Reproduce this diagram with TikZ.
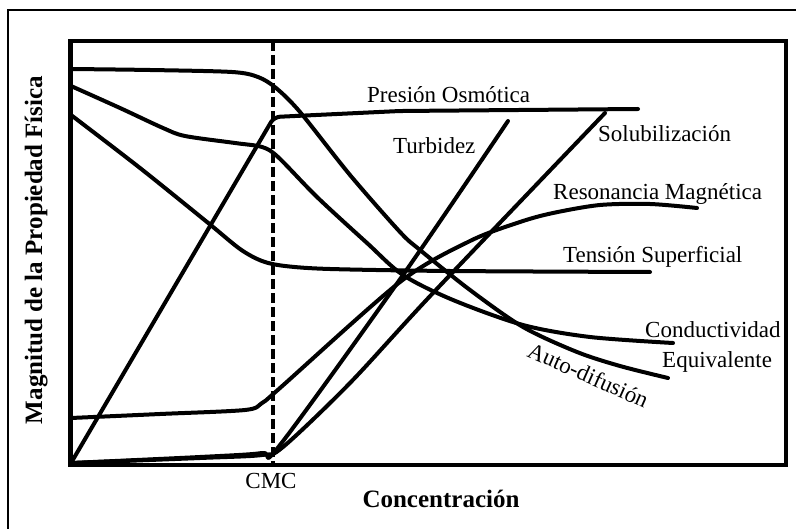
\documentclass[tikz,border=0pt]{standalone}
\usepackage{fontspec}
\setmainfont{Liberation Serif}
\begin{document}
\begin{tikzpicture}[x=1bp,y=-1bp,
  curve/.style={line width=4bp, line join=round, line cap=round},
  lbl/.style={font=\fontsize{23bp}{27bp}\selectfont, inner sep=0pt},
  axlbl/.style={font=\fontsize{25bp}{29bp}\selectfont\bfseries, inner sep=0pt}]
\useasboundingbox (0,0) rectangle (796,529);
\fill[white] (0,0) rectangle (796,529);
% outer frame (cropped)
\draw[line width=2.5bp] (8,529) -- (8,10) -- (796,10);
% axes box
\draw[line width=4.5bp] (70.5,41) rectangle (786,465);
% CMC line
\draw[line width=3.5bp, dash pattern=on 10bp off 4bp] (273,41) -- (273,465);
% Auto-difusion
\draw[curve] plot[smooth, tension=0.5] coordinates {(71,69) (150,70) (232,72) (258,77) (276,88) (300,112) (350,175) (400,232) (420,250) (470,290) (523,327) (577,352) (620,366) (668,378)};
% Conductividad
\draw[curve] plot[smooth, tension=0.5] coordinates {(71,86) (120,108) (163,128) (185,136) (235,143) (262,147) (278,157) (317,197) (367,243) (403,275) (453,300) (523,325) (590,337) (673,343)};
% Tension superficial
\draw[curve] plot[smooth, tension=0.5] coordinates {(71,115) (140,168) (207,222) (240,249) (262,261) (285,266) (330,269) (450,271) (650,272)};
% Presion osmotica
\draw[curve, rounded corners=6bp] (71,463) -- (274,117) -- (400,111) -- (638,109);
% Turbidez
\draw[curve] plot[smooth, tension=0.5] coordinates {(71,463) (200,457) (262,453) (280,445) (403,275) (508,121)};
% Solubilizacion
\draw[curve] plot[smooth, tension=0.5] coordinates {(71,463) (200,458) (262,455) (283,447) (350,383) (433,293) (605,113)};
% Resonancia magnetica
\draw[curve] plot[smooth, tension=0.5] coordinates {(71,418) (160,414) (245,410) (262,403) (280,388) (400,282) (470,241) (520,222) (553,213) (600,205) (650,204) (697,208)};
% labels
\node[lbl, anchor=base west] (po) at (367,103) {Presión Osmótica};
\node[lbl, anchor=base west] (tu) at (393,154) {Turbidez};
\node[lbl, anchor=base west] (so) at (598,142) {Solubilización};
\node[lbl, anchor=base west] (rm) at (553,200) {Resonancia Magnética};
\node[lbl, anchor=base west] (ts) at (563,263) {Tensión Superficial};
\node[lbl, anchor=base west] (co) at (645,337) {Conductividad};
\node[lbl, anchor=base west] (eq) at (662,367) {Equivalente};
\node[lbl, anchor=base west, rotate=-24] (ad) at (526,356) {Auto-difusión};
\node[lbl, anchor=base] (cmc) at (271,488) {CMC};
\node[axlbl, anchor=base] (xl) at (441,507) {Concentración};
\node[axlbl, anchor=base, rotate=90] (yl) at (42,250) {Magnitud de la Propiedad Física};
\end{tikzpicture}
\end{document}
